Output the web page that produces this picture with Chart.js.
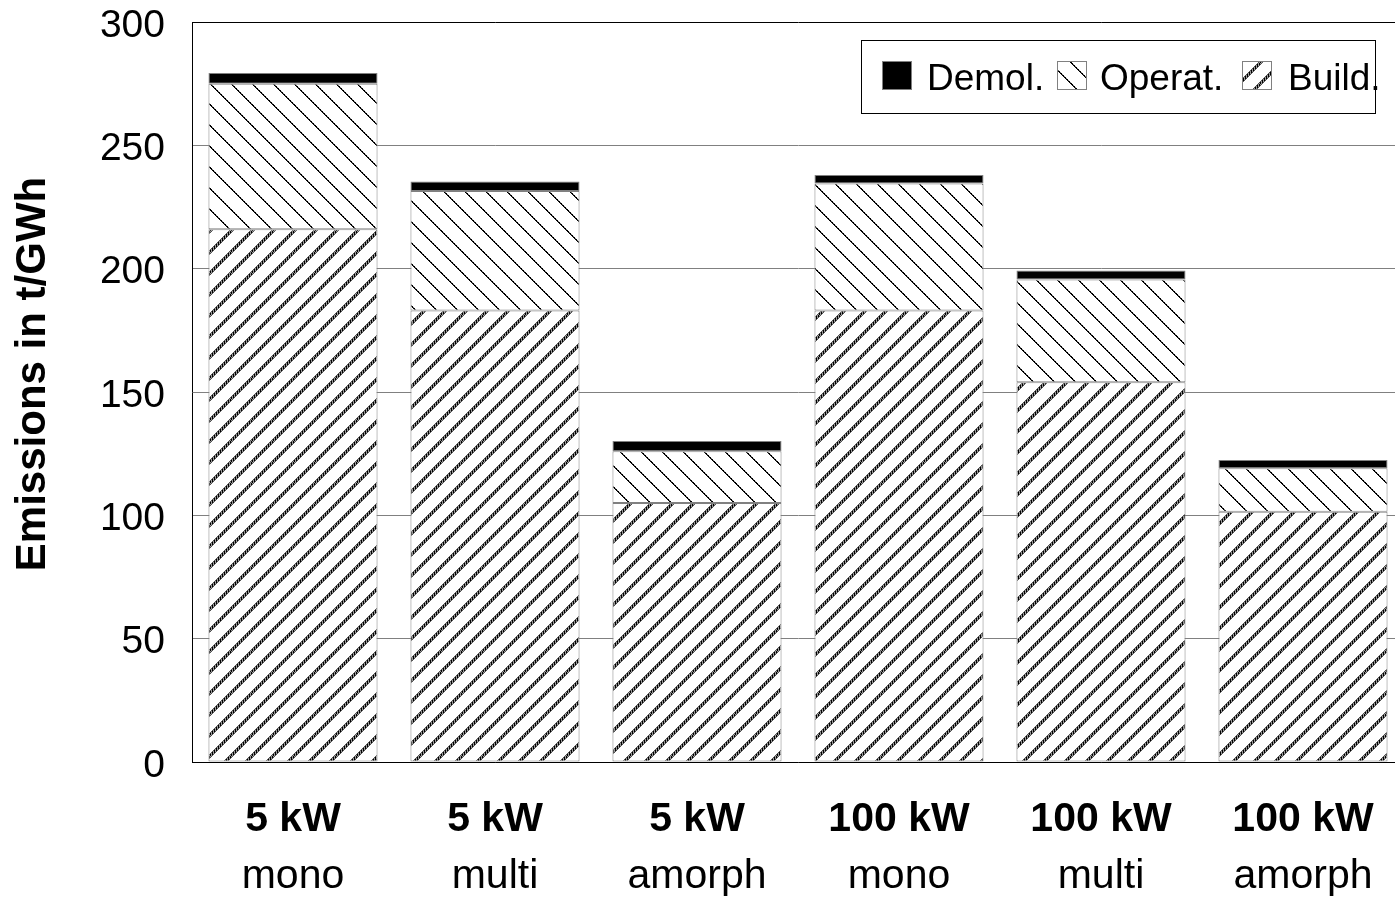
<!DOCTYPE html>
<html>
<head>
<meta charset="utf-8">
<script src="https://cdn.jsdelivr.net/npm/chart.js@4/dist/chart.umd.min.js"></script>
<style>
  html, body { margin: 0; padding: 0; background: #fff; overflow: hidden; width: 1395px; height: 897px; }
  #wrap { width: 1410px; height: 897px; }
</style>
</head>
<body>
<div id="wrap"><canvas id="c" width="1410" height="897"></canvas></div>
<script>
// ---- data ----
const sizeLabels = ['5 kW', '5 kW', '5 kW', '100 kW', '100 kW', '100 kW'];
const typeLabels = ['mono', 'multi', 'amorph', 'mono', 'multi', 'amorph'];
const buildValues = [216, 183, 105, 183, 154, 101.5];
const operatValues = [59, 48.5, 21, 51.5, 41.6, 17.6];
const demolValues = [4.3, 3.8, 4.1, 3.5, 3.7, 3.3];
const seriesNames = { build: 'Build.', operat: 'Operat.', demol: 'Demol.' };
const yTitle = 'Emissions in t/GWh';
const yMin = 0, yMax = 300, yStep = 50;

const FONT = '"Liberation Sans", Arial, sans-serif';

// ---- hatch patterns ----
function makeOperatPattern(ctx) {
  const s = 21;
  const c = document.createElement('canvas');
  c.width = s; c.height = s;
  const g = c.getContext('2d');
  g.fillStyle = '#fff'; g.fillRect(0, 0, s, s);
  for (let i = 0; i < s; i++) {
    g.fillStyle = '#000'; g.fillRect(i, i, 1, 1);
    g.fillStyle = (i % 2 === 0) ? '#000' : '#666'; g.fillRect((i + 1) % s, i, 1, 1);
  }
  return ctx.createPattern(c, 'repeat');
}
function makeBuildPattern(ctx) {
  const s = 21;
  const c = document.createElement('canvas');
  c.width = s; c.height = s;
  const g = c.getContext('2d');
  g.fillStyle = '#fff'; g.fillRect(0, 0, s, s);
  for (let i = 0; i < s; i++) {
    for (let k = -2; k <= 2; k++) {
      const x = ((s - 1 - i + k) % s + s) % s;
      if (Math.abs(k) === 2) g.fillStyle = '#555';
      else g.fillStyle = ((k + i) % 2 === 0) ? '#000' : '#999';
      g.fillRect(x, i, 1, 1);
    }
  }
  return ctx.createPattern(c, 'repeat');
}

const canvas = document.getElementById('c');
const ctx0 = canvas.getContext('2d');
const operatPattern = makeOperatPattern(ctx0);
const buildPattern = makeBuildPattern(ctx0);

const labels = sizeLabels.map((s, i) => s + ' ' + typeLabels[i]);

// ---- custom drawing plugin (axis label lines, y title, legend) ----
const decor = {
  id: 'decor',
  afterDraw(chart) {
    const ctx = chart.ctx;
    const xs = chart.scales.x;
    ctx.save();
    ctx.fillStyle = '#000';
    ctx.textAlign = 'center';
    ctx.textBaseline = 'alphabetic';
    for (let i = 0; i < sizeLabels.length; i++) {
      const x = xs.getPixelForValue(i);
      ctx.font = 'bold 41px ' + FONT;
      ctx.fillText(sizeLabels[i], x, 831);
      ctx.font = '41px ' + FONT;
      ctx.fillText(typeLabels[i], x, 888);
    }
    // y title
    ctx.save();
    ctx.translate(45, 374);
    ctx.rotate(-Math.PI / 2);
    ctx.font = 'bold 42px ' + FONT;
    ctx.textAlign = 'center';
    ctx.textBaseline = 'alphabetic';
    ctx.fillText(yTitle, 0, 0);
    ctx.restore();

    // legend
    ctx.fillStyle = '#fff';
    ctx.fillRect(861, 40, 514, 73);
    ctx.strokeStyle = '#000';
    ctx.lineWidth = 1;
    ctx.strokeRect(861.5, 40.5, 514, 73);
    const ds = chart.data.datasets;
    const items = [
      { d: ds[2], ix: 882, tx: 927 },
      { d: ds[1], ix: 1057, tx: 1100 },
      { d: ds[0], ix: 1242, tx: 1288 }
    ];
    ctx.font = '37px ' + FONT;
    ctx.textAlign = 'left';
    items.forEach(it => {
      ctx.fillStyle = it.d.backgroundColor;
      ctx.fillRect(it.ix, 61, 30, 29);
      ctx.strokeStyle = '#808080';
      ctx.strokeRect(it.ix + 0.5, 61.5, 29, 28);
      ctx.fillStyle = '#000';
      ctx.fillText(it.d.label, it.tx, 90);
    });
    ctx.restore();
  }
};

new Chart(canvas, {
  type: 'bar',
  data: {
    labels: labels,
    datasets: [
      { label: seriesNames.build, data: buildValues, backgroundColor: buildPattern },
      { label: seriesNames.operat, data: operatValues, backgroundColor: operatPattern },
      { label: seriesNames.demol, data: demolValues, backgroundColor: '#000' }
    ]
  },
  options: {
    responsive: false,
    animation: false,
    devicePixelRatio: 1,
    layout: { padding: { top: 22, right: 6, left: 0, bottom: 0 } },
    datasets: {
      bar: {
        categoryPercentage: 1,
        barPercentage: 0.837,
        borderColor: '#808080',
        borderWidth: 1,
        borderSkipped: false
      }
    },
    plugins: {
      legend: { display: false },
      tooltip: { enabled: false },
      title: { display: false }
    },
    scales: {
      x: {
        stacked: true,
        grid: { display: false },
        border: { display: true, color: '#000', width: 1 },
        ticks: { display: false },
        afterFit(scale) { scale.height = 135; }
      },
      y: {
        stacked: true,
        min: yMin,
        max: yMax,
        grid: {
          drawTicks: true,
          tickLength: 27,
          tickColor: 'rgba(0,0,0,0)',
          color: (c) => (c.tick && c.tick.value === yMax) ? '#000' : '#808080',
          lineWidth: 1
        },
        border: { display: true, color: '#000', width: 1 },
        ticks: {
          stepSize: yStep,
          padding: 0,
          labelOffset: 4,
          color: '#000',
          font: { family: FONT, size: 39, lineHeight: 1.0 }
        },
        afterFit(scale) { scale.width = 192; }
      }
    }
  },
  plugins: [decor]
});
</script>
</body>
</html>
